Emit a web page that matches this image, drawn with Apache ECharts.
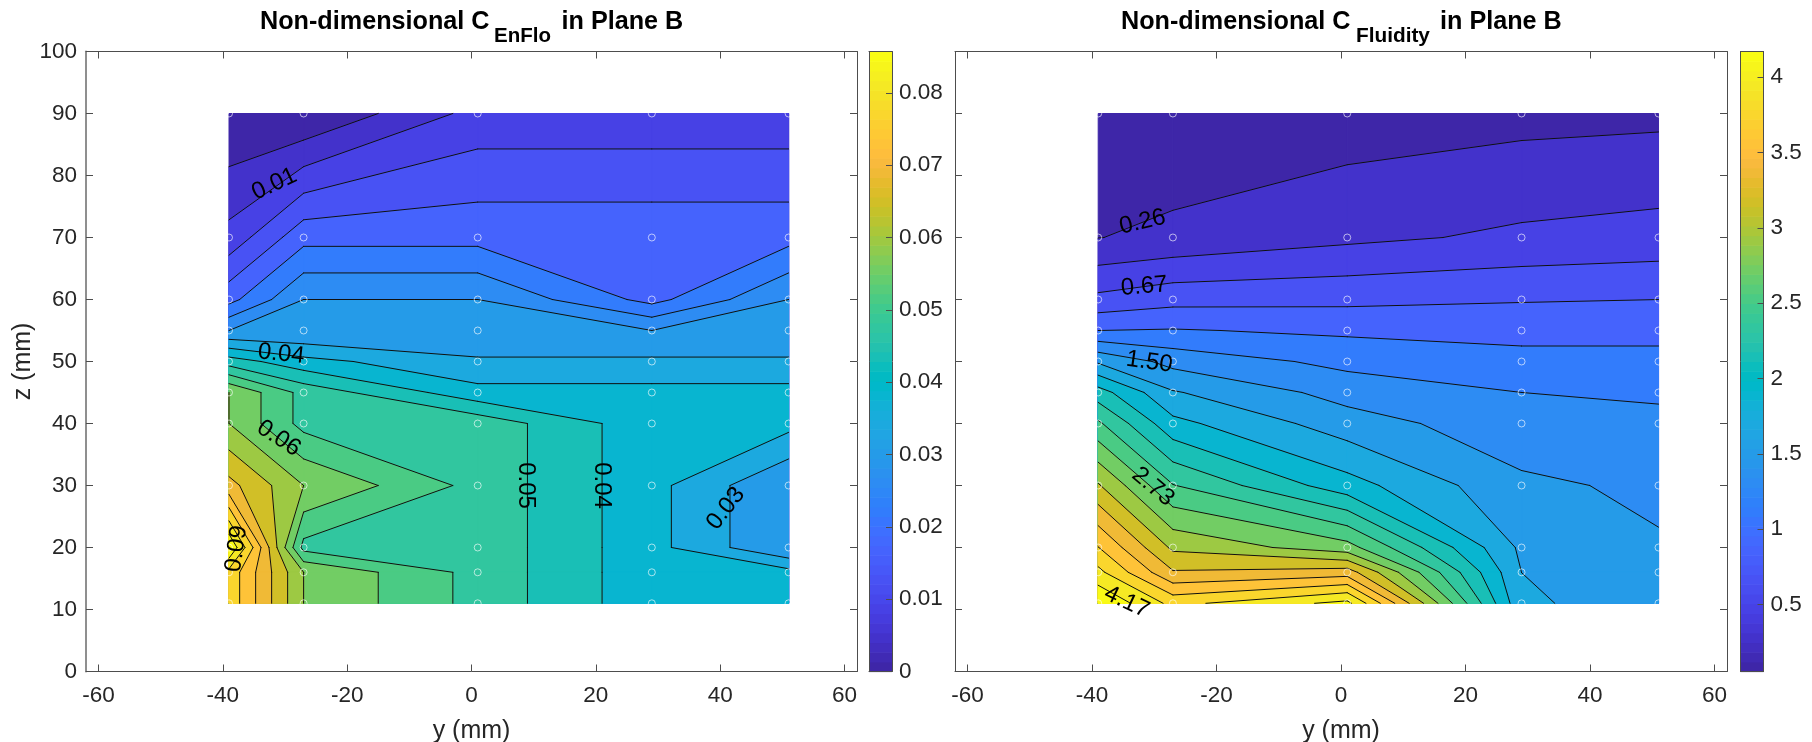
<!DOCTYPE html>
<html>
<head>
<meta charset="utf-8">
<script src="https://cdn.jsdelivr.net/npm/echarts@6/dist/echarts.min.js"></script>
<style>html,body{margin:0;padding:0;background:#fff}#c{width:1812px;height:742px}</style>
</head>
<body>
<div id="c"></div>
<script>
// ---------- data ----------
const yNodes = [-39, -27, 1, 29, 51];
const zNodes = [90, 70, 60, 55, 50, 45, 40, 30, 20, 16, 11];
const enfloValues = [
  [0.000, 0.000, 0.010, 0.010, 0.010],
  [0.010, 0.020, 0.020, 0.020, 0.020],
  [0.020, 0.030, 0.030, 0.020, 0.030],
  [0.030, 0.030, 0.030, 0.030, 0.030],
  [0.045, 0.040, 0.035, 0.035, 0.035],
  [0.060, 0.050, 0.040, 0.040, 0.040],
  [0.060, 0.050, 0.050, 0.040, 0.040],
  [0.070, 0.060, 0.050, 0.040, 0.030],
  [0.090, 0.050, 0.050, 0.040, 0.030],
  [0.080, 0.060, 0.050, 0.040, 0.040],
  [0.080, 0.060, 0.050, 0.040, 0.040]
];
const fluidityValues = [
  [0.055, 0.100, 0.148, 0.193, 0.211],
  [0.257, 0.306, 0.421, 0.504, 0.545],
  [0.724, 0.808, 0.827, 0.864, 0.878],
  [1.084, 1.098, 1.047, 1.012, 1.022],
  [1.671, 1.428, 1.230, 1.156, 1.146],
  [2.206, 1.720, 1.417, 1.290, 1.249],
  [2.560, 1.967, 1.590, 1.366, 1.358],
  [3.163, 2.535, 1.990, 1.537, 1.454],
  [3.766, 3.101, 2.813, 1.660, 1.516],
  [4.023, 3.368, 3.451, 1.701, 1.557],
  [4.377, 3.903, 4.233, 1.743, 1.572]
];
const xTicks = [-60, -40, -20, 0, 20, 40, 60];
const zTicks = [0, 10, 20, 30, 40, 50, 60, 70, 80, 90, 100];
const enfloBarTicks = [0, 0.01, 0.02, 0.03, 0.04, 0.05, 0.06, 0.07, 0.08];
const fluidityBarTicks = [0.5, 1, 1.5, 2, 2.5, 3, 3.5, 4];
const enfloLabels = [
  ['0.01', -31.7, 78.6, 25], ['0.04', -30.6, 51.2, -6], ['0.06', -31, 37.6, -33],
  ['0.09', -37.8, 19.8, 82], ['0.05', 8.7, 30, -90], ['0.04', 20.9, 30, -90], ['0.03', 40.9, 26.3, 52]
];
const fluidityLabels = [
  ['0.26', -31.9, 72.5, 13], ['0.67', -31.6, 62.1, 5], ['1.50', -30.8, 49.9, -8],
  ['2.73', -30.2, 29.8, -40], ['4.17', -34.4, 11.2, -25]
];
const parula = [[0.2422,0.1504,0.6603],[0.2504,0.1650,0.7076],[0.2578,0.1818,0.7511],[0.2647,0.1978,0.7952],[0.2706,0.2147,0.8364],[0.2751,0.2342,0.8710],[0.2783,0.2559,0.8991],[0.2803,0.2782,0.9221],[0.2813,0.3006,0.9414],[0.2810,0.3228,0.9579],[0.2795,0.3447,0.9717],[0.2760,0.3667,0.9829],[0.2699,0.3892,0.9906],[0.2602,0.4123,0.9952],[0.2440,0.4358,0.9988],[0.2206,0.4603,0.9973],[0.1963,0.4847,0.9892],[0.1834,0.5074,0.9798],[0.1786,0.5289,0.9682],[0.1764,0.5499,0.9520],[0.1687,0.5703,0.9359],[0.1540,0.5902,0.9218],[0.1460,0.6091,0.9079],[0.1380,0.6276,0.8973],[0.1248,0.6459,0.8883],[0.1113,0.6635,0.8763],[0.0952,0.6798,0.8598],[0.0689,0.6948,0.8394],[0.0297,0.7082,0.8163],[0.0036,0.7203,0.7917],[0.0067,0.7312,0.7660],[0.0433,0.7411,0.7394],[0.0964,0.7500,0.7120],[0.1408,0.7584,0.6842],[0.1717,0.7670,0.6554],[0.1938,0.7758,0.6251],[0.2161,0.7843,0.5923],[0.2470,0.7918,0.5567],[0.2906,0.7973,0.5188],[0.3406,0.8008,0.4789],[0.3909,0.8029,0.4354],[0.4456,0.8024,0.3909],[0.5044,0.7993,0.3480],[0.5616,0.7942,0.3045],[0.6174,0.7876,0.2612],[0.6720,0.7793,0.2227],[0.7242,0.7698,0.1910],[0.7738,0.7598,0.1646],[0.8203,0.7498,0.1535],[0.8634,0.7406,0.1596],[0.9035,0.7330,0.1774],[0.9393,0.7288,0.2100],[0.9728,0.7298,0.2394],[0.9956,0.7434,0.2371],[0.9970,0.7659,0.2199],[0.9952,0.7893,0.2028],[0.9892,0.8136,0.1885],[0.9786,0.8386,0.1766],[0.9676,0.8639,0.1643],[0.9610,0.8890,0.1537],[0.9597,0.9135,0.1423],[0.9628,0.9373,0.1265],[0.9691,0.9606,0.1064],[0.9769,0.9839,0.0805]];

// ---------- contour helpers ----------
const EPS = 1e-9;
const FONT = '"Liberation Sans", Arial, sans-serif';
const INK = '#262626';
const GRID_TOP = 51.5;
const toCss = c => 'rgb(' + c.map(x => Math.round(x * 255)).join(',') + ')';

function colourFor(v, lo, hi) {
  const i = Math.min(63, Math.max(0, Math.floor((v - lo) / (hi - lo) * 64 + 1e-6)));
  return toCss(parula[i]);
}
function makeCells(values) {
  const cells = [];
  for (let r = 0; r < zNodes.length - 1; r++) {
    for (let c = 0; c < yNodes.length - 1; c++) {
      cells.push([
        [yNodes[c], zNodes[r], values[r][c]],
        [yNodes[c + 1], zNodes[r], values[r][c + 1]],
        [yNodes[c + 1], zNodes[r + 1], values[r + 1][c + 1]],
        [yNodes[c], zNodes[r + 1], values[r + 1][c]]
      ]);
    }
  }
  return cells;
}
function crossing(a, b, L) {
  const t = (L - a[2]) / (b[2] - a[2]);
  return [a[0] + (b[0] - a[0]) * t, a[1] + (b[1] - a[1]) * t, L];
}
function clipAbove(poly, L) {
  const out = [];
  for (let i = 0; i < poly.length; i++) {
    const a = poly[i], b = poly[(i + 1) % poly.length];
    const aIn = a[2] >= L - EPS, bIn = b[2] >= L - EPS;
    if (aIn) out.push(a);
    if (aIn !== bIn) out.push(crossing(a, b, L));
  }
  return out;
}
function segmentsOf(cell, L) {
  const pts = [];
  for (let i = 0; i < 4; i++) {
    const a = cell[i], b = cell[(i + 1) % 4];
    if ((a[2] >= L - EPS) !== (b[2] >= L - EPS)) pts.push(crossing(a, b, L));
  }
  if (pts.length === 2) return [[pts[0], pts[1]]];
  if (pts.length === 4) {
    const mean = (cell[0][2] + cell[1][2] + cell[2][2] + cell[3][2]) / 4;
    const same = (mean >= L - EPS) === (cell[0][2] >= L - EPS);
    return same ? [[pts[0], pts[1]], [pts[2], pts[3]]] : [[pts[3], pts[0]], [pts[1], pts[2]]];
  }
  return [];
}
function buildField(values) {
  const flat = values.flat();
  const lo = Math.min(...flat), hi = Math.max(...flat);
  const step = (hi - lo) / 21;
  const levels = [];
  for (let i = 0; i <= 20; i++) levels.push(lo + i * step);
  const cLo = levels[0], cHi = levels[20];
  const cells = makeCells(values);
  const polys = [], segs = [];
  levels.forEach((L, i) => {
    const fill = colourFor(L, cLo, cHi);
    cells.forEach(cell => {
      const p = i === 0 ? cell : clipAbove(cell, L);
      if (p.length >= 3) polys.push({ pts: p, fill });
      if (i > 0) segmentsOf(cell, L).forEach(s => {
        if (Math.abs(s[0][0] - s[1][0]) + Math.abs(s[0][1] - s[1][1]) > 1e-6) segs.push(s);
      });
    });
  });
  return { polys, segs, cLo, cHi };
}

// ---------- one panel ----------
const option = { animation: false, backgroundColor: '#fff', title: [], grid: [], xAxis: [], yAxis: [], series: [] };

function addTitle(text, left, top, size) {
  option.title.push({ text, left, top, padding: 0, textStyle: { fontFamily: FONT, fontWeight: 'bold', fontSize: size, color: '#000' } });
}
function addPanel(cfg) {
  const field = buildField(cfg.values);
  const g = option.grid.length;
  option.grid.push({ left: cfg.left, top: GRID_TOP, width: cfg.width, height: 620, show: false, outerBoundsMode: 'none' });
  const mainX = option.xAxis.length, mainY = option.yAxis.length;
  const axisBase = { type: 'value', gridIndex: g, splitLine: { show: false }, z: 6 };
  const tick = vals => ({ show: true, inside: true, length: 7, customValues: vals, lineStyle: { color: '#4d4d4d', width: 1 } });
  const line = { show: true, onZero: false, lineStyle: { color: '#4d4d4d', width: 1 } };
  const labelStyle = { fontFamily: FONT, fontSize: 22.5, color: INK };
  option.xAxis.push(Object.assign({}, axisBase, {
    position: 'bottom', min: -62, max: 62, axisLine: line, axisTick: tick(xTicks),
    axisLabel: Object.assign({ show: true, customValues: xTicks, margin: 13, hideOverlap: false, showMinLabel: true, showMaxLabel: true, formatter: v => String(v) }, labelStyle),
    name: 'y (mm)', nameLocation: 'middle', nameGap: 47,
    nameTextStyle: { fontFamily: FONT, fontSize: 25, color: INK }
  }));
  option.xAxis.push(Object.assign({}, axisBase, {
    position: 'top', min: -62, max: 62, axisLine: line, axisTick: tick(xTicks), axisLabel: { show: false }
  }));
  option.yAxis.push(Object.assign({}, axisBase, {
    position: 'left', min: 0, max: 100,
    axisLine: cfg.showY ? { show: true, onZero: false, lineStyle: { color: '#8f8f8f', width: 2 } } : line,
    axisTick: tick(zTicks),
    axisLabel: cfg.showY
      ? Object.assign({ show: true, customValues: zTicks, margin: 9, showMinLabel: true, showMaxLabel: true }, labelStyle)
      : { show: false },
    name: cfg.showY ? 'z (mm)' : '', nameLocation: 'middle', nameGap: 50,
    nameTextStyle: { fontFamily: FONT, fontSize: 25, color: INK }
  }));
  option.yAxis.push(Object.assign({}, axisBase, {
    position: 'right', min: 0, max: 100, axisLine: line, axisTick: tick(zTicks), axisLabel: { show: false }
  }));

  const onMain = { coordinateSystem: 'cartesian2d', xAxisIndex: mainX, yAxisIndex: mainY, silent: true, clip: false };
  option.series.push(Object.assign({}, onMain, {
    type: 'custom', z: 2, encode: { x: 0, y: 1 },
    data: field.polys.map(p => [p.pts[0][0], p.pts[0][1]]),
    renderItem: (params, api) => {
      const p = field.polys[params.dataIndex];
      return { type: 'polygon', shape: { points: p.pts.map(q => api.coord([q[0], q[1]])) },
        style: { fill: p.fill, stroke: p.fill, lineWidth: 1 } };
    }
  }));
  option.series.push(Object.assign({}, onMain, {
    type: 'custom', z: 3, encode: { x: 0, y: 1 },
    data: field.segs.map(s => [s[0][0], s[0][1]]),
    renderItem: (params, api) => {
      const s = field.segs[params.dataIndex];
      const a = api.coord([s[0][0], s[0][1]]), b = api.coord([s[1][0], s[1][1]]);
      return { type: 'line', shape: { x1: a[0], y1: a[1], x2: b[0], y2: b[1] },
        style: { stroke: '#101010', lineWidth: 1, lineCap: 'round' } };
    }
  }));
  const nodes = [];
  zNodes.forEach(z => yNodes.forEach(y => nodes.push([y, z])));
  option.series.push(Object.assign({}, onMain, {
    type: 'scatter', z: 4, symbol: 'circle', symbolSize: 7, data: nodes,
    itemStyle: { color: 'rgba(255,255,255,0)', borderColor: 'rgba(255,255,255,0.8)', borderWidth: 1 }
  }));
  option.series.push(Object.assign({}, onMain, {
    type: 'custom', z: 5, encode: { x: 1, y: 2 },
    data: cfg.labels,
    renderItem: (params, api) => {
      const l = cfg.labels[params.dataIndex];
      const c = api.coord([l[1], l[2]]);
      return { type: 'text', x: c[0], y: c[1], rotation: l[3] * Math.PI / 180,
        style: { text: l[0], x: 0, y: 0, align: 'center', verticalAlign: 'middle',
          fontFamily: FONT, fontSize: 24, fill: '#000' } };
    }
  }));

  // colour bar
  const gb = option.grid.length;
  option.grid.push({ left: cfg.barLeft, top: GRID_TOP, width: 23, height: 620, show: false, outerBoundsMode: 'none' });
  const bx = option.xAxis.length, by = option.yAxis.length;
  const barLine = { show: true, onZero: false, lineStyle: { color: '#4d4d4d', width: 1 } };
  ['bottom', 'top'].forEach(pos => option.xAxis.push({
    type: 'value', gridIndex: gb, position: pos, min: 0, max: 1, z: 6, axisLine: barLine,
    axisTick: { show: false }, axisLabel: { show: false }, splitLine: { show: false }
  }));
  option.yAxis.push({
    type: 'value', gridIndex: gb, position: 'right', min: field.cLo, max: field.cHi, z: 6, axisLine: barLine,
    splitLine: { show: false },
    axisTick: { show: true, inside: true, length: 6, customValues: cfg.barTicks, lineStyle: { color: '#4d4d4d', width: 1 } },
    axisLabel: Object.assign({ show: true, customValues: cfg.barTicks, margin: 7, formatter: v => String(v) }, labelStyle)
  });
  option.yAxis.push({
    type: 'value', gridIndex: gb, position: 'left', min: field.cLo, max: field.cHi, z: 6, axisLine: barLine,
    axisTick: { show: false }, axisLabel: { show: false }, splitLine: { show: false }
  });
  const steps = parula.map((_, i) => i);
  const bandH = (field.cHi - field.cLo) / 64;
  option.series.push({
    type: 'custom', coordinateSystem: 'cartesian2d', xAxisIndex: bx, yAxisIndex: by, silent: true, z: 2,
    encode: { x: 0, y: 1 },
    data: steps.map(i => [0.5, field.cLo + (i + 0.5) * bandH]),
    renderItem: (params, api) => {
      const i = params.dataIndex;
      const a = api.coord([0, field.cLo + i * bandH]), b = api.coord([1, field.cLo + (i + 1) * bandH]);
      return { type: 'rect', shape: { x: a[0], y: b[1], width: b[0] - a[0], height: a[1] - b[1] + 0.6 },
        style: { fill: toCss(parula[i]) } };
    }
  });
}

addPanel({ values: enfloValues, labels: enfloLabels, left: 86, width: 771, barLeft: 869, barTicks: enfloBarTicks, showY: true });
addPanel({ values: fluidityValues, labels: fluidityLabels, left: 955, width: 772, barLeft: 1740.5, barTicks: fluidityBarTicks, showY: false });

addTitle('Non-dimensional C', 260, 9.5, 25.2);
addTitle('EnFlo', 494, 25.5, 20.5);
addTitle('in Plane B', 561.5, 9.5, 25.2);
addTitle('Non-dimensional C', 1121, 9.5, 25.2);
addTitle('Fluidity', 1356, 25.5, 20.8);
addTitle('in Plane B', 1440, 9.5, 25.2);

echarts.init(document.getElementById('c'), null, { renderer: 'canvas' }).setOption(option);
</script>
</body>
</html>
